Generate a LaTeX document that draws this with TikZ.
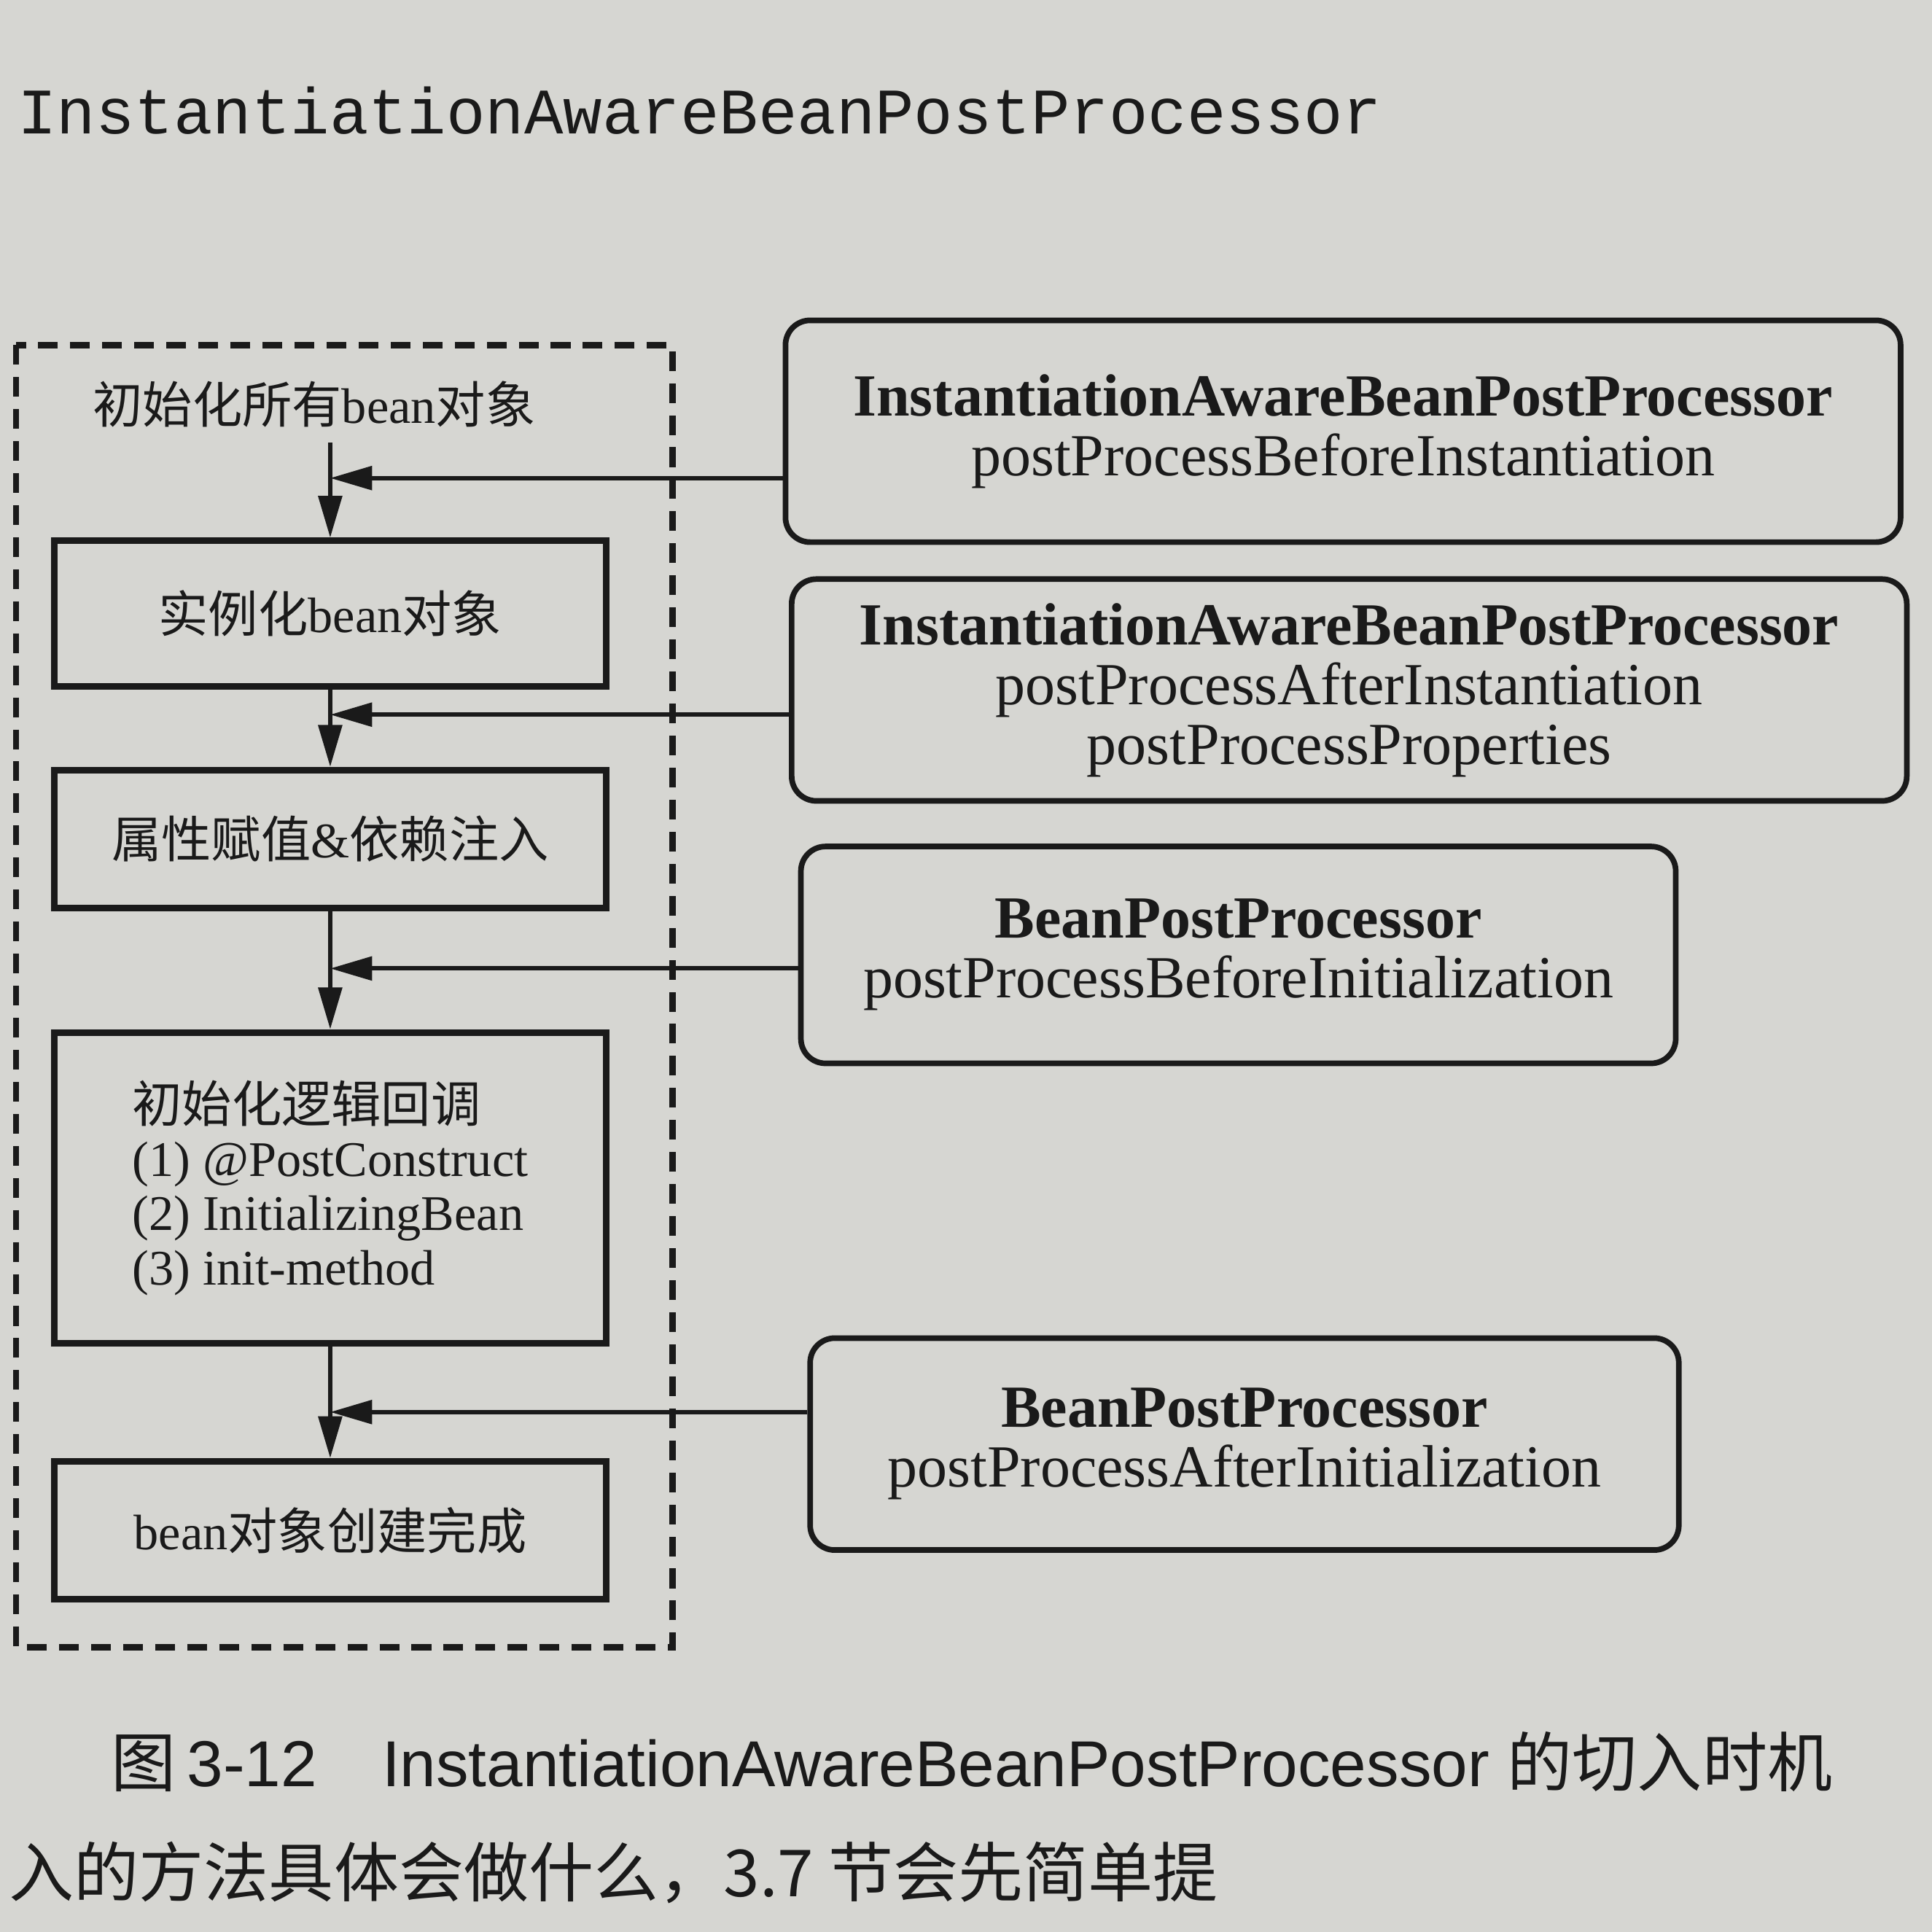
\documentclass[tikz,border=0pt]{standalone}
\usepackage{fontspec}
\setmainfont{Liberation Serif}
\setmonofont{Liberation Mono}
\newfontfamily\cjk{Noto Sans CJK SC}
\newfontfamily\capfont{Liberation Sans}
\usetikzlibrary{arrows.meta}
\definecolor{paper}{RGB}{214,214,210}
\definecolor{ink}{RGB}{26,26,26}
\newcommand{\zh}[1]{{\cjk #1}}

\begin{document}
\begin{tikzpicture}[
    stage/.style={draw=ink, line width=1.5pt, minimum width=4.48cm, align=center, text=ink, font=\fontsize{11.5}{12.5}\selectfont},
    hook/.style={draw=ink, line width=1.3pt, rounded corners=0.2cm, align=center, text=ink, font=\fontsize{13.8}{13.8}\selectfont},
    flow/.style={draw=ink, line width=1pt, -{Triangle[length=3.4mm,width=1.9mm]}},
    ]
        \clip (0,0) rectangle (15.68,-15.68);
        \fill[paper] (0,0) rectangle (15.68,-15.68);

        % body text of the page
        \node[anchor=west, text=ink, font=\ttfamily\fontsize{15}{15}\selectfont] (toptext) at (0.02,-0.90) {InstantiationAwareBeanPostProcessor};
        \node[anchor=west, text=ink, font=\cjk\fontsize{15}{15}\selectfont] (bottext) at (-0.05,-15.20) {入的方法具体会做什么，3.7 节会先简单提};

        % dashed frame around the bean life cycle
        \draw[ink, line width=1.5pt, dash pattern=on 1.6mm off 1mm] (0.13,-2.80) rectangle (5.46,-13.37);

        % left column
        \node[text=ink, font=\fontsize{11.5}{12.5}\selectfont] (init) at (2.55,-3.28) {\zh{初始化所有}bean\zh{对象}};
        \node[stage, minimum height=1.18cm] (inst) at (2.68,-4.98) {\zh{实例化}bean\zh{对象}};
        \node[stage, minimum height=1.12cm] (prop) at (2.68,-6.81) {\zh{属性赋值}\&\zh{依赖注入}};
        \node[stage, align=left, minimum height=2.52cm] (initcb) at (2.68,-9.64) {\zh{初始化逻辑回调}\\(1) @PostConstruct\\(2) InitializingBean\\(3) init-method};
        \node[stage, minimum height=1.12cm] (done) at (2.68,-12.42) {bean\zh{对象创建完成}};

        % right column
        \node[hook, minimum width=9.05cm, minimum height=1.80cm] (r1) at (10.90,-3.50) {\textbf{InstantiationAwareBeanPostProcessor}\\postProcessBeforeInstantiation};
        \node[hook, minimum width=9.05cm, minimum height=1.80cm] (r2) at (10.95,-5.60) {\textbf{InstantiationAwareBeanPostProcessor}\\postProcessAfterInstantiation\\postProcessProperties};
        \node[hook, minimum width=7.10cm, minimum height=1.76cm] (r3) at (10.05,-7.75) {\textbf{BeanPostProcessor}\\postProcessBeforeInitialization};
        \node[hook, minimum width=7.05cm, minimum height=1.72cm] (r4) at (10.10,-11.72) {\textbf{BeanPostProcessor}\\postProcessAfterInitialization};

        \coordinate (j1) at (2.68,-3.88);
        \coordinate (j2) at (2.68,-5.80);
        \coordinate (j3) at (2.68,-7.86);
        \coordinate (j4) at (2.68,-11.46);

        \draw[flow] (init.south -| inst.north) -- (inst.north);
        \draw[flow] (inst.south) -- (prop.north);
        \draw[flow] (prop.south) -- (initcb.north);
        \draw[flow] (initcb.south) -- (done.north);

        \draw[flow] (r1.west |- j1) -- (j1);
        \draw[flow] (r2.west |- j2) -- (j2);
        \draw[flow] (r3.west |- j3) -- (j3);
        \draw[flow] (r4.west |- j4) -- (j4);

        \node[anchor=west, text=ink, font=\capfont\fontsize{15}{15}\selectfont] (cap) at (0.78,-14.30) {\zh{图}\,3-12\hspace{1em}InstantiationAwareBeanPostProcessor \zh{的切入时机}};
    \end{tikzpicture}
\end{document}
